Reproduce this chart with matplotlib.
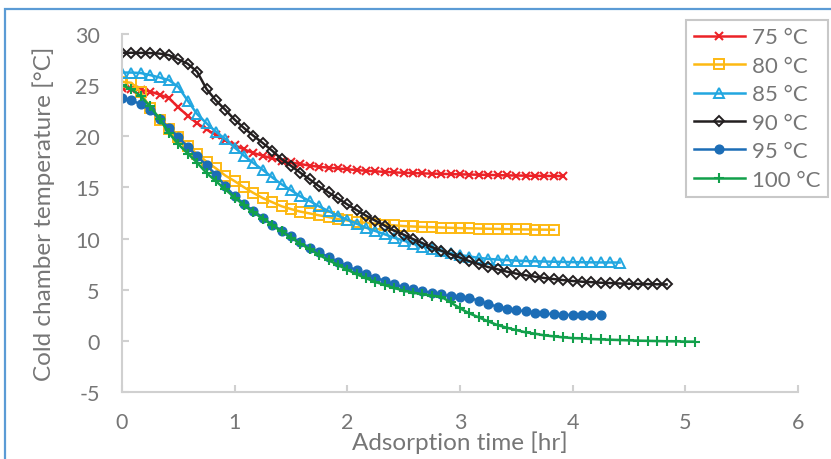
import matplotlib.pyplot as plt
import matplotlib.patches as patches
import numpy as np

# readings every 5 min
STEP_HR = 5 / 60

labels = ["75 °C", "80 °C", "85 °C", "90 °C", "95 °C", "100 °C"]

t75 = [24.65, 24.6, 24.5, 24.35, 24.05, 23.7, 22.8, 21.98, 21.25, 20.65, 20.1, 19.6,
       19.1, 18.7, 18.35, 18.08, 17.82, 17.6, 17.43, 17.27, 17.12, 17.0, 16.92, 16.84,
       16.77, 16.68, 16.62, 16.56, 16.51, 16.46, 16.42, 16.39, 16.36, 16.34, 16.31, 16.29,
       16.27, 16.25, 16.23, 16.21, 16.19, 16.17, 16.15, 16.14, 16.12, 16.11, 16.1, 16.1]
t80 = [25.3, 25.2, 24.3, 22.7, 21.6, 20.7, 19.9, 19.05, 18.25, 17.5, 16.85, 16.15,
       15.6, 15.0, 14.45, 13.95, 13.55, 13.15, 12.88, 12.63, 12.45, 12.27, 12.1, 11.9,
       11.77, 11.64, 11.54, 11.45, 11.36, 11.29, 11.22, 11.18, 11.14, 11.11, 11.08, 11.05,
       11.02, 11.0, 10.98, 10.96, 10.94, 10.92, 10.9, 10.89, 10.88, 10.87, 10.86]
t85 = [26.2, 26.2, 26.15, 25.95, 25.72, 25.46, 24.8, 23.45, 22.15, 21.25, 20.42, 19.71,
       18.88, 18.08, 17.37, 16.7, 15.97, 15.3, 14.72, 14.12, 13.66, 13.14, 12.68, 12.23,
       11.84, 11.45, 11.06, 10.73, 10.41, 10.08, 9.8, 9.5, 9.22, 8.97, 8.77, 8.58,
       8.4, 8.25, 8.12, 8.02, 7.95, 7.9, 7.85, 7.81, 7.78, 7.76, 7.74, 7.72,
       7.7, 7.69, 7.68, 7.67, 7.67, 7.66]
t90 = [28.13, 28.13, 28.12, 28.1, 28.05, 27.9, 27.48, 27.06, 26.28, 24.6, 23.48, 22.57,
       21.6, 20.78, 20.03, 19.32, 18.57, 17.76, 17.1, 16.42, 15.77, 15.09, 14.5, 13.92,
       13.33, 12.78, 12.23, 11.74, 11.25, 10.76, 10.38, 9.95, 9.55, 9.17, 8.82, 8.47,
       8.14, 7.8, 7.5, 7.22, 7.0, 6.77, 6.58, 6.42, 6.28, 6.15, 6.05, 5.95,
       5.86, 5.79, 5.75, 5.69, 5.66, 5.62, 5.59, 5.57, 5.56, 5.54, 5.53]
t95 = [23.67, 23.5, 23.1, 22.55, 21.66, 20.8, 19.9, 18.93, 18.05, 17.15, 16.25, 15.1,
       14.15, 13.37, 12.7, 12.03, 11.37, 10.76, 10.21, 9.62, 9.1, 8.65, 8.2, 7.75,
       7.3, 6.9, 6.52, 6.18, 5.86, 5.55, 5.26, 5.05, 4.87, 4.7, 4.55, 4.36,
       4.26, 4.22, 3.93, 3.6, 3.37, 3.17, 3.02, 2.9, 2.78, 2.7, 2.61, 2.57,
       2.54, 2.52, 2.5, 2.5]
t100 = [24.95, 24.6, 23.9, 22.9, 21.7, 20.3, 19.2, 18.3, 17.4, 16.4, 15.6, 14.8,
        14.0, 13.25, 12.55, 11.95, 11.3, 10.7, 10.1, 9.5, 8.95, 8.4, 7.9, 7.42,
        6.96, 6.52, 6.12, 5.77, 5.46, 5.18, 4.92, 4.73, 4.56, 4.43, 4.33, 3.78,
        3.19, 2.7, 2.31, 1.92, 1.56, 1.3, 1.07, 0.85, 0.72, 0.55, 0.46, 0.36,
        0.29, 0.25, 0.2, 0.16, 0.13, 0.1, 0.07, 0.04, 0.02, 0.0, -0.02, -0.03,
        -0.05, -0.06]

series = [t75, t80, t85, t90, t95, t100]

colors = ["#EC2227", "#FDB913", "#22A7E0", "#231F20", "#1C6DB6", "#12A04B"]
styles = [
    dict(marker="x", ms=6, mew=1.5, mfc="none"),
    dict(marker="s", ms=6.5, mew=1.4, mfc="none"),
    dict(marker="^", ms=7, mew=1.4, mfc="none"),
    dict(marker="D", ms=5.2, mew=1.4, mfc="none"),
    dict(marker="o", ms=6.3, mew=1.0),
    dict(marker="+", ms=7, mew=1.5),
]

plt.rcParams["font.family"] = ["Lato", "DejaVu Sans"]
plt.rcParams["axes.unicode_minus"] = False
gray = "#767676"

fig = plt.figure(figsize=(8.31, 4.60), dpi=100)
ax = fig.add_axes([122 / 831, 1 - 393.3 / 460, 676 / 831, 358.7 / 460])

for temps, lab, c, st in zip(series, labels, colors, styles):
    t = np.arange(len(temps)) * STEP_HR
    ax.plot(t, temps, color=c, lw=1.8, label=lab, mec=c, **st)

ax.set_xlim(0, 6)
ax.set_ylim(-5, 30)
ax.set_xticks(range(0, 7))
ax.set_yticks(range(-5, 31, 5))
for s in ["top", "right"]:
    ax.spines[s].set_visible(False)
for s in ["left", "bottom"]:
    ax.spines[s].set_color("#D0D0D0")
    ax.spines[s].set_linewidth(1.5)
ax.tick_params(direction="in", length=5, width=1.5, color="#D0D0D0",
               labelcolor=gray, labelsize=15.5)
ax.tick_params(axis="x", pad=14)
ax.tick_params(axis="y", pad=16)

ax.set_xlabel("Adsorption time [hr]", fontsize=17.5, color=gray, labelpad=-1)
ax.set_ylabel("Cold chamber temperature [°C]", fontsize=17.5, color=gray, labelpad=14)

leg = ax.legend(loc="upper left", bbox_to_anchor=(686 / 831, 1 - 20.7 / 460),
                bbox_transform=fig.transFigure, fontsize=16, frameon=True,
                fancybox=False, framealpha=1, edgecolor="#C8C8C8",
                handlelength=2.3, handletextpad=0.3, labelspacing=0.38,
                borderpad=0.35, borderaxespad=0)
leg.get_frame().set_linewidth(1.5)
for txt in leg.get_texts():
    txt.set_color(gray)

# chart area border
fig.patches.append(patches.Rectangle((5 / 831, -0.2), 1.5, 1.2 - 10.3 / 460,
                                     transform=fig.transFigure, fill=False,
                                     edgecolor="#5B9BD5", lw=1.6, clip_on=False))

fig.savefig("out.png", dpi=100)
